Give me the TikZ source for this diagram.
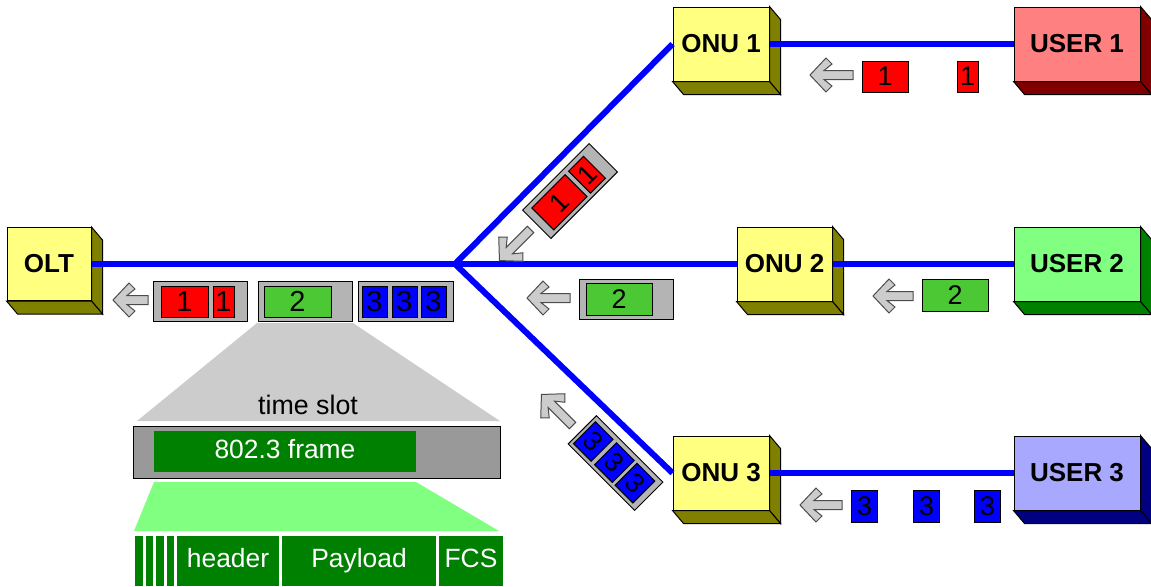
\documentclass[tikz,border=0pt]{standalone}
\usepackage{fontspec}
\setmainfont{Liberation Sans}
\usetikzlibrary{calc}
\definecolor{unitface}{RGB}{255,255,128}
\definecolor{unitside}{RGB}{128,128,0}
\definecolor{userred}{RGB}{255,128,128}
\definecolor{userredside}{RGB}{128,0,0}
\definecolor{usergreen}{RGB}{128,255,128}
\definecolor{usergreenside}{RGB}{0,128,0}
\definecolor{userblue}{RGB}{168,168,255}
\definecolor{userblueside}{RGB}{0,0,128}
\definecolor{slotgray}{RGB}{180,180,180}
\definecolor{cellgreen}{RGB}{76,200,52}
\definecolor{framegreen}{RGB}{0,128,0}
\definecolor{trapgray}{RGB}{204,204,204}
\definecolor{bargray}{RGB}{153,153,153}
\tikzset{
  unitbox/.style={draw=black, line width=0.5pt, inner sep=0pt, minimum width=48pt, minimum height=37pt,
    font=\bfseries\fontsize{13}{15}\selectfont},
  fiber/.style={line width=3pt, color=blue},
  slot/.style={draw=black, line width=0.5pt, fill=slotgray, inner sep=0pt, minimum width=47pt, minimum height=20pt},
  cell/.style={draw=black, line width=0.5pt, inner sep=0pt, minimum height=15.5pt, font=\fontsize{13.5}{15}\selectfont},
  arrowface/.style={draw=black!70, line width=0.5pt, fill=trapgray},
  field/.style={fill=framegreen, text=white, inner sep=0pt, minimum height=25pt, text height=9.6pt, text depth=2.8pt,
    font=\fontsize{13.2}{15}\selectfont}
}
\def\boxdepth(#1)#2{%
  \draw[line width=0.5pt, fill=#2] (#1.north east) -- ++(11,13) -- ($(#1.south east)+(11,13)$) -- (#1.south east) -- cycle;
  \draw[line width=0.5pt, fill=#2] (#1.south west) -- ($(#1.south west)+(11,13)$) -- ($(#1.south east)+(11,13)$) -- (#1.south east) -- cycle;}
\def\backarrow[#1](#2)(#3){\draw[arrowface, line join=miter, shift={(#2)}, rotate=#1] (-#3,0) -- ({-#3+16},-17) -- ({-#3+22},-11) -- ({-#3+14},-4.5) -- (#3,-4.5) -- (#3,4.5) -- ({-#3+14},4.5) -- ({-#3+22},11) -- ({-#3+16},17) -- cycle;}

\begin{document}
\begin{tikzpicture}[x=0.5pt, y=-0.5pt]
	\useasboundingbox (0,0) rectangle (1151,586);
	
	%%%%% UNITS %%%%%
	\node[unitbox, fill=unitface, minimum width=42pt, minimum height=36.5pt] (olt) at (49,264) {OLT};
	\boxdepth(olt){unitside}
	
	\node[unitbox, fill=unitface] (onu1) at (721,44) {ONU 1};
	\boxdepth(onu1){unitside}
	\node[unitbox, fill=unitface, minimum width=47.5pt] (onu2) at (784.5,264) {ONU 2};
	\boxdepth(onu2){unitside}
	\node[unitbox, fill=unitface] (onu3) at (721,473) {ONU 3};
	\boxdepth(onu3){unitside}
	
	\node[unitbox, fill=userred, minimum width=63pt] (user1) at (1077,44) {USER 1};
	\boxdepth(user1){userredside}
	\node[unitbox, fill=usergreen, minimum width=63pt] (user2) at (1077,264) {USER 2};
	\boxdepth(user2){usergreenside}
	\node[unitbox, fill=userblue, minimum width=63pt] (user3) at (1077,473) {USER 3};
	\boxdepth(user3){userblueside}
	
	%%%%% FIBER %%%%%
	\coordinate (split) at (455,264);
	\draw[fiber] (olt.east) -- (split);
	\draw[fiber] (split) -- (onu1.west);
	\draw[fiber] (split) -- (onu2.west);
	\draw[fiber] (split) -- (onu3.west);
	\draw[fiber] (onu1.east) -- (user1.west);
	\draw[fiber] (onu2.east) -- (user2.west);
	\draw[fiber] (onu3.east) -- (user3.west);
	
	%%%%% UPSTREAM PACKETS %%%%%
	\backarrow[0](831.5,75)(21.5)
	\node[cell, fill=red, minimum width=23pt] (u1a) at (885,76.5) {1};
	\node[cell, fill=red, minimum width=10.5pt] (u1b) at (967.5,76.5) {1};
	
	\backarrow[0](893,296)(20)
	\node[cell, fill=cellgreen, minimum width=33pt, minimum height=16pt] (u2a) at (955,295) {2};
	
	\backarrow[0](821,505)(21)
	\foreach \px [count=\i] in {864.5,926.5,987.5}
		\node[cell, fill=blue, minimum width=13pt, minimum height=16pt] (u3\i) at (\px,506) {3};
	
	\backarrow[45](515,245)(22)
	\begin{scope}[shift={(570,191)}, rotate=45, transform shape]
		\node[slot] (b1) at (0,0) {};
		\node[cell, fill=red, minimum width=23.5pt] (b1a) at (-15.5,0.5) {1};
		\node[cell, fill=red, minimum width=10.5pt] (b1b) at (23.5,0.5) {1};
	\end{scope}
	
	\backarrow[0](548.5,298)(21.5)
	\node[slot] (b2) at (626.5,299) {};
	\node[cell, fill=cellgreen, minimum width=33pt, minimum height=16pt] (b2a) at (619,299) {2};
	
	\backarrow[-45](557,410)(22)
	\begin{scope}[shift={(615.5,463)}, rotate=-45, transform shape]
		\node[slot] (b3) at (0,0) {};
		\foreach \px [count=\i] in {-31,-1,28}
			\node[cell, fill=blue, minimum width=12.5pt] (b3\i) at (\px,0.5) {3};
	\end{scope}
	
	%%%%% TRUNK %%%%%
	\backarrow[0](130.5,300)(17.5)
	\node[slot] (g1) at (200,301) {};
	\node[cell, fill=red, minimum width=23.5pt, font=\fontsize{14.5}{16}\selectfont] (g1a) at (184.5,301.5) {1};
	\node[cell, fill=red, minimum width=10.5pt, font=\fontsize{14.5}{16}\selectfont] (g1b) at (223.5,301.5) {1};
	\node[slot] (g2) at (305,301) {};
	\node[cell, fill=cellgreen, minimum width=33.5pt, font=\fontsize{14.5}{16}\selectfont] (g2a) at (297.5,301.5) {2};
	\node[slot, minimum width=47.5pt] (g3) at (405.5,301) {};
	\foreach \px [count=\i] in {374.5,404.5,433.5}
		\node[cell, fill=blue, minimum width=12.5pt, font=\fontsize{14.5}{16}\selectfont] (g3\i) at (\px,301.5) {3};
	
	%%%%% TIME SLOT %%%%%
	\fill[trapgray] (257,323) -- (353,323) -- (500,421) -- (137,421) -- cycle;
	\node[font=\fontsize{13.4}{15}\selectfont] (slotlabel) at (308,405) {time slot};
	\node[draw=black, line width=0.5pt, fill=bargray, inner sep=0pt, minimum width=183.5pt, minimum height=26pt] (slotbar) at (316.5,452) {};
	\node[field, minimum width=131pt, minimum height=20.5pt] (frame) at (285,451.5) {802.3 frame};
	
	\fill[usergreen] (154,482) -- (416,482) -- (499,531) -- (134,531) -- cycle;
	\foreach \sx in {135,145.5,156,166.5}
		\fill[framegreen] (\sx,536) rectangle ++(7.5,50);
	\node[field, minimum width=51pt] (header) at (228,561) {header};
	\node[field, minimum width=77pt] (payload) at (359,561) {Payload};
	\node[field, minimum width=32pt] (fcs) at (471,561) {FCS};
	
\end{tikzpicture}
\end{document}
